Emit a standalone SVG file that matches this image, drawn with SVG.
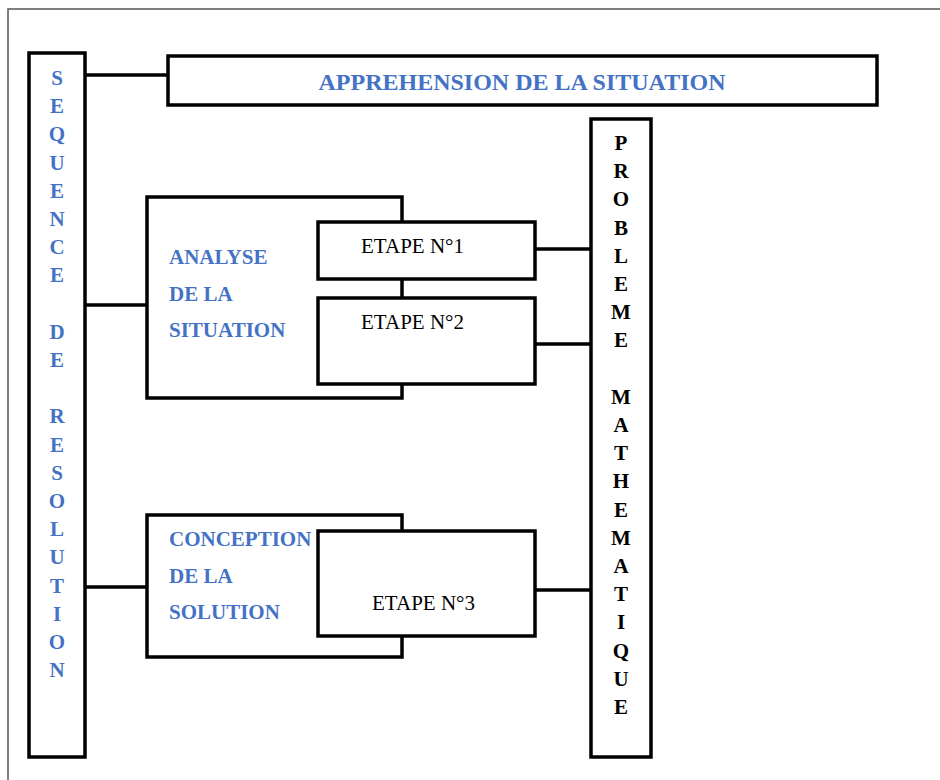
<svg xmlns="http://www.w3.org/2000/svg" width="940" height="780" viewBox="0 0 940 780">
<style>
.box{fill:#fff;stroke:#000;stroke-width:3.5}
.ln{stroke:#000;stroke-width:3.5;fill:none}
.blue{font-family:"Liberation Serif","Times New Roman",serif;font-weight:bold;fill:#4472C4}
.blk{font-family:"Liberation Serif","Times New Roman",serif;fill:#000}
.vb{font-family:"Liberation Serif","Times New Roman",serif;font-weight:bold;font-size:21px;text-anchor:middle}
</style>
<rect width="940" height="780" fill="#fff"/>
<path d="M8,780 V9 H940" fill="none" stroke="#555" stroke-width="1.5"/>
<g id="connectors">
<line class="ln" x1="85" y1="75" x2="168" y2="75"/>
<line class="ln" x1="85" y1="305" x2="147" y2="305"/>
<line class="ln" x1="85" y1="587" x2="147" y2="587"/>
<line class="ln" x1="536" y1="249" x2="591" y2="249"/>
<line class="ln" x1="536" y1="344" x2="591" y2="344"/>
<line class="ln" x1="536" y1="590" x2="591" y2="590"/>
</g>
<g id="sequence">
<rect class="box" x="29" y="53" width="56" height="704"/>
<g class="vb" fill="#4472C4">
<text x="57" y="85">S</text><text x="57" y="113.2">E</text><text x="57" y="141.4">Q</text><text x="57" y="169.6">U</text><text x="57" y="197.8">E</text><text x="57" y="226">N</text><text x="57" y="254.2">C</text><text x="57" y="282.4">E</text>
<text x="57" y="338.8">D</text><text x="57" y="367">E</text>
<text x="57" y="423.4">R</text><text x="57" y="451.6">E</text><text x="57" y="479.8">S</text><text x="57" y="508">O</text><text x="57" y="536.2">L</text><text x="57" y="564.4">U</text><text x="57" y="592.6">T</text><text x="57" y="620.8">I</text><text x="57" y="649">O</text><text x="57" y="677.2">N</text>
</g>
</g>
<g id="apprehension">
<rect class="box" x="168" y="56" width="709" height="49"/>
<text class="blue" x="522" y="90" font-size="24" text-anchor="middle">APPREHENSION DE LA SITUATION</text>
</g>
<g id="probleme">
<rect class="box" x="591" y="119" width="60" height="638"/>
<g class="vb" fill="#000">
<text x="621" y="150">P</text><text x="621" y="178.2">R</text><text x="621" y="206.4">O</text><text x="621" y="234.6">B</text><text x="621" y="262.8">L</text><text x="621" y="291">E</text><text x="621" y="319.2">M</text><text x="621" y="347.4">E</text>
<text x="621" y="403.8">M</text><text x="621" y="432">A</text><text x="621" y="460.2">T</text><text x="621" y="488.4">H</text><text x="621" y="516.6">E</text><text x="621" y="544.8">M</text><text x="621" y="573">A</text><text x="621" y="601.2">T</text><text x="621" y="629.4">I</text><text x="621" y="657.6">Q</text><text x="621" y="685.8">U</text><text x="621" y="714">E</text>
</g>
</g>
<g id="analyse">
<rect class="box" x="147" y="197" width="255" height="201"/>
<text class="blue" x="169" y="264" font-size="21">ANALYSE</text>
<text class="blue" x="169" y="301" font-size="21">DE LA</text>
<text class="blue" x="169" y="337" font-size="21">SITUATION</text>
</g>
<g id="etape1">
<rect class="box" x="318" y="222" width="217" height="57"/>
<text class="blk" x="361" y="253" font-size="21">ETAPE N°1</text>
</g>
<g id="etape2">
<rect class="box" x="318" y="298" width="217" height="86"/>
<text class="blk" x="361" y="329" font-size="21">ETAPE N°2</text>
</g>
<g id="conception">
<rect class="box" x="147" y="515" width="255" height="142"/>
<text class="blue" x="169" y="546" font-size="21">CONCEPTION</text>
<text class="blue" x="169" y="583" font-size="21">DE LA</text>
<text class="blue" x="169" y="619" font-size="21">SOLUTION</text>
</g>
<g id="etape3">
<rect class="box" x="318" y="531" width="217" height="105"/>
<text class="blk" x="372" y="610" font-size="21">ETAPE N°3</text>
</g>
</svg>
